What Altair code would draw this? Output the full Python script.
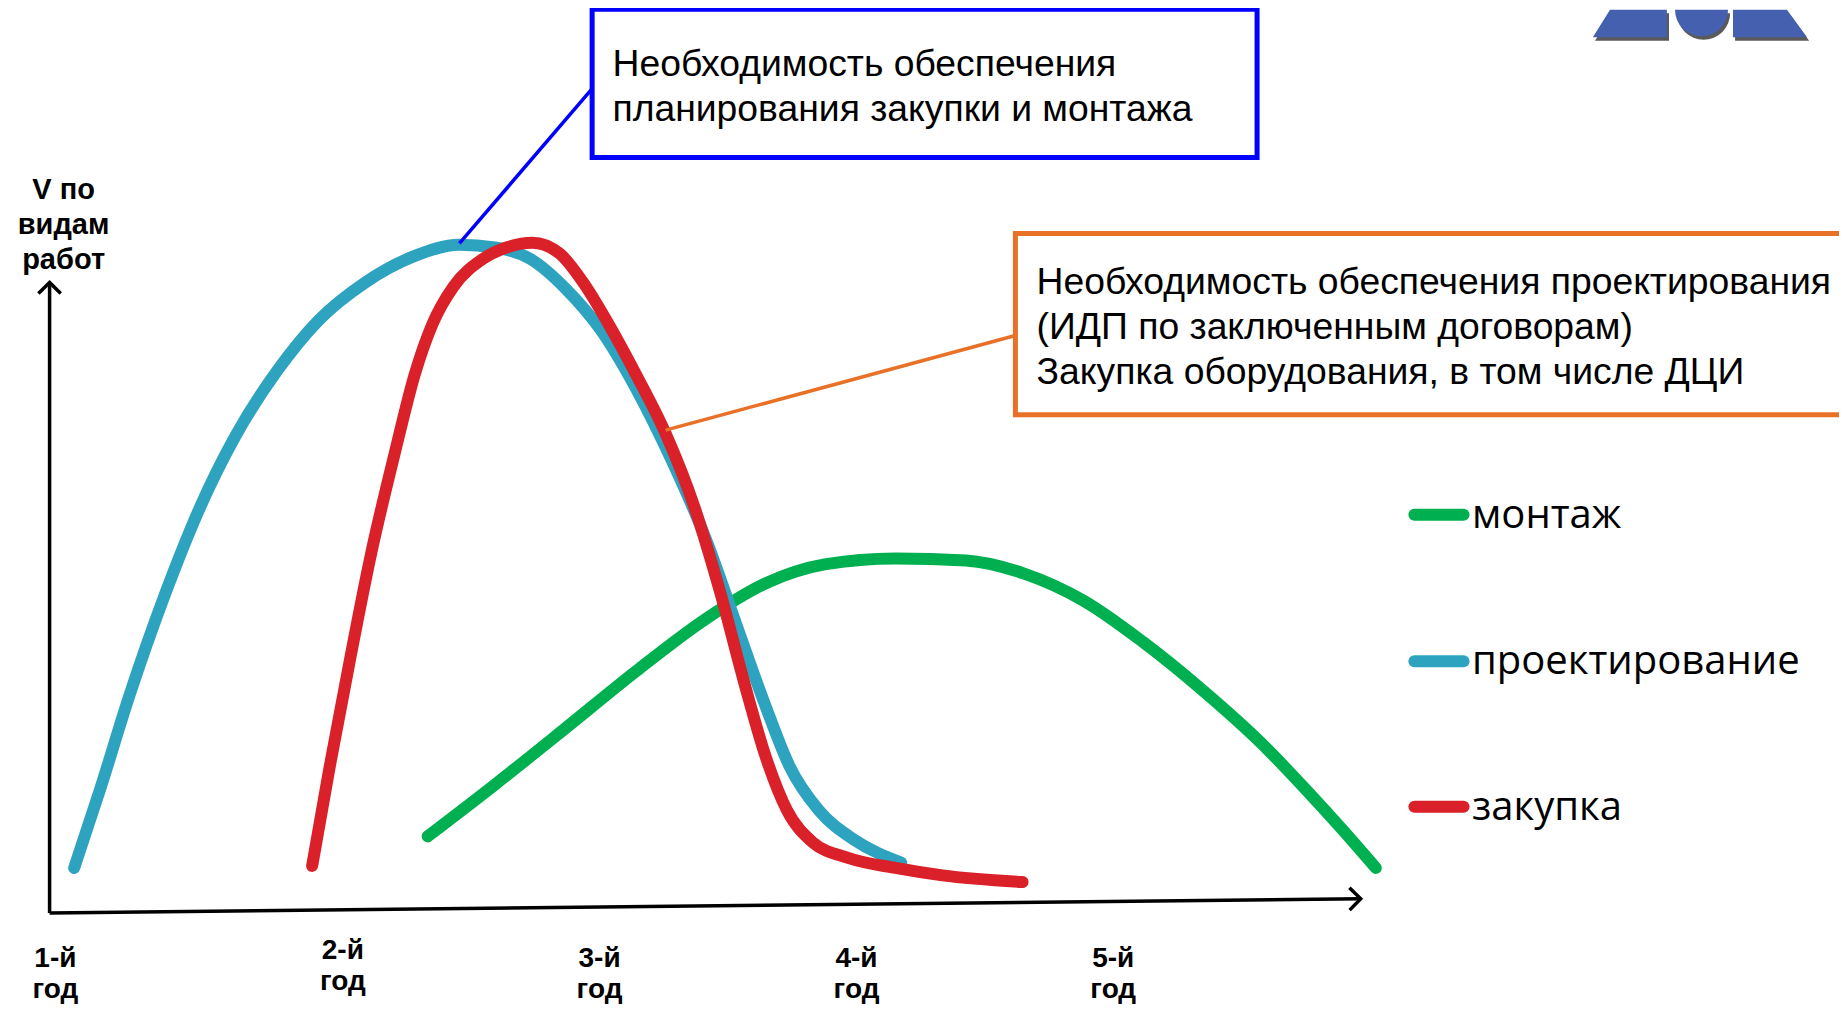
import math
import altair as alt
import pandas as pd

# ---------------- data (x = years, y = relative volume of work) ----------------
series_names = ["монтаж", "проектирование", "закупка"]
series_colors = ["#00B050", "#2EA3C0", "#DA2029"]

proj_x = [1.071, 1.169, 1.281, 1.414, 1.548, 1.682, 1.838, 1.994, 2.172, 2.350, 2.528, 2.662,
          2.796, 2.929, 3.063, 3.196, 3.330, 3.464, 3.575, 3.687, 3.776, 3.887, 4.021, 4.199]
proj_y = [6.7, 18.4, 32.5, 47.4, 60.5, 71.1, 80.7, 88.2, 93.9, 97.7, 99.5, 99.1,
          97.4, 93.0, 86.8, 78.1, 67.5, 55.3, 43.0, 30.7, 21.9, 15.3, 10.9, 7.5]

buy_x = [1.971, 2.038, 2.114, 2.194, 2.283, 2.359, 2.426, 2.506, 2.617, 2.706, 2.804, 2.907,
         2.996, 3.085, 3.196, 3.308, 3.419, 3.517, 3.606, 3.687, 3.767, 3.865, 3.998, 4.177,
         4.355, 4.658]
buy_y = [7.0, 21.9, 37.7, 53.5, 68.4, 80.2, 87.7, 93.3, 97.4, 99.1, 99.8, 98.2,
         93.9, 88.2, 80.2, 71.4, 60.2, 47.4, 34.2, 23.2, 15.3, 10.5, 8.2, 6.7,
         5.6, 4.6]

mont_x = [2.408, 2.662, 2.929, 3.196, 3.464, 3.687, 3.909, 4.177, 4.444, 4.667, 4.889,
          5.112, 5.335, 5.558, 5.736, 5.870, 5.994]
mont_y = [11.4, 19.1, 27.5, 36.0, 43.9, 49.1, 51.9, 52.8, 52.5, 50.5, 46.5,
          40.4, 33.3, 25.4, 18.1, 12.3, 6.7]

year_labels = ["1-й\nгод", "2-й\nгод", "3-й\nгод", "4-й\nгод", "5-й\nгод"]
year_label_x = [1.0, 2.087, 3.058, 4.030, 5.001]
year_label_y = [-6.8, -5.6, -6.8, -6.8, -6.8]

y_title = "V по\nвидам\nработ"
box1_text = "Необходимость обеспечения\nпланирования закупки  и монтажа"
box2_text = ("Необходимость обеспечения проектирования\n(ИДП по заключенным договорам)\n"
             "Закупка оборудования, в том числе ДЦИ")

# ---------------- scales ----------------
XD = [0.8207, 7.746]
YD = [-13.86, 134.77]


def X(field):
    return alt.X(field, type="quantitative", scale=alt.Scale(domain=XD, nice=False, zero=False), axis=None)


def Y(field):
    return alt.Y(field, type="quantitative", scale=alt.Scale(domain=YD, nice=False, zero=False), axis=None)


color_scale = alt.Scale(domain=series_names, range=series_colors)

curves = pd.concat([
    pd.DataFrame({"x": mont_x, "y": mont_y, "s": "монтаж"}),
    pd.DataFrame({"x": proj_x, "y": proj_y, "s": "проектирование"}),
    pd.DataFrame({"x": buy_x, "y": buy_y, "s": "закупка"}),
])

layers = []

# logo (partially visible at the top right), with shadow
logo_df = pd.DataFrame({
    "part": ["l", "l", "r", "r"],
    "y": [134.5, 130.4, 134.5, 130.4],
    "x": [6.880, 6.815, 7.345, 7.345],
    "x2": [7.095, 7.095, 7.549, 7.625],
})
shadow_df = logo_df.assign(x=logo_df.x + 0.008, x2=logo_df.x2 + 0.008, y=logo_df.y - 0.5)
layers.append(alt.Chart(shadow_df).mark_area(orient="horizontal", color="#5a5a5a").encode(
    y=Y("y"), x=X("x"), x2="x2", detail="part:N"))
layers.append(alt.Chart(pd.DataFrame({"x": [7.234], "y": [134.0]})).mark_arc(
    radius=26.5, theta=math.pi / 2, theta2=3 * math.pi / 2, color="#5a5a5a"
).encode(x=X("x"), y=Y("y")))
layers.append(alt.Chart(logo_df).mark_area(orient="horizontal", color="#4660B0").encode(
    y=Y("y"), x=X("x"), x2="x2", detail="part:N"))
layers.append(alt.Chart(pd.DataFrame({"x": [7.226], "y": [134.5]})).mark_arc(
    radius=26.5, theta=math.pi / 2, theta2=3 * math.pi / 2, color="#4660B0"
).encode(x=X("x"), y=Y("y")))

# axes
axes_df = pd.DataFrame({"x": [0.978, 0.978], "x2": [0.978, 5.937], "y": [0.0, 0.0], "y2": [93.9, 2.1]})
layers.append(alt.Chart(axes_df).mark_rule(color="black", strokeWidth=3.5).encode(
    x=X("x"), x2="x2", y=Y("y"), y2="y2"))
arrow_df = pd.DataFrame({"x": [0.978, 5.937], "y": [93.9, 2.1], "a": [0.0, 89.4]})
layers.append(alt.Chart(arrow_df).mark_point(
    shape="M-1,1L0,0L1,1", size=500, filled=False, color="black", strokeWidth=3.5, opacity=1
).encode(x=X("x"), y=Y("y"), angle=alt.Angle("a:Q", scale=None)))

# curves
for name in series_names:
    layers.append(alt.Chart(curves).transform_filter(alt.datum.s == name).mark_line(
        strokeWidth=12, strokeCap="round", strokeJoin="round", interpolate="monotone"
    ).encode(x=X("x"), y=Y("y"), color=alt.Color("s:N", scale=color_scale, legend=None)))

# legend (manual)
leg_df = pd.DataFrame({"s": series_names, "x": [6.140] * 3, "x2": [6.326] * 3,
                       "tx": [6.358] * 3, "y": [59.3, 37.5, 15.8]})
layers.append(alt.Chart(leg_df).mark_rule(strokeWidth=12, strokeCap="round").encode(
    x=X("x"), x2="x2", y=Y("y"), color=alt.Color("s:N", scale=color_scale, legend=None)))
layers.append(alt.Chart(leg_df).mark_text(
    align="left", baseline="middle", font="Open Sans", fontSize=40, color="black", dy=1
).encode(x=X("tx"), y=Y("y"), text="s:N"))

# y title
layers.append(alt.Chart(pd.DataFrame({"x": [1.031], "y": [107.7], "t": [y_title]})).mark_text(
    align="center", baseline="middle", font="Liberation Sans", fontWeight="bold",
    fontSize=29, lineHeight=35, lineBreak="\n", color="black"
).encode(x=X("x"), y=Y("y"), text="t:N"))

# year labels
layers.append(alt.Chart(pd.DataFrame({"x": year_label_x, "y": year_label_y, "t": year_labels})).mark_text(
    align="center", baseline="middle", font="Liberation Sans", fontWeight="bold",
    fontSize=28, lineHeight=31, lineBreak="\n", color="black"
).encode(x=X("x"), y=Y("y"), text="t:N"))

# annotation boxes
box_df = pd.DataFrame({"x": [3.030, 4.631], "x2": [5.545, 7.9], "y": [134.6, 101.2], "y2": [112.5, 74.2],
                       "c": ["#0000FF", "#E97127"]})
layers.append(alt.Chart(box_df).mark_rect(fill="white", fillOpacity=0, strokeWidth=5).encode(
    x=X("x"), x2="x2", y=Y("y"), y2="y2", stroke=alt.Stroke("c:N", scale=None)))
conn_df = pd.DataFrame({"x": [2.528, 3.308], "x2": [3.031, 4.631], "y": [99.7, 71.9], "y2": [122.8, 86.0],
                        "c": ["#0000FF", "#E97127"]})
layers.append(alt.Chart(conn_df).mark_rule(strokeWidth=3.5).encode(
    x=X("x"), x2="x2", y=Y("y"), y2="y2", color=alt.Color("c:N", scale=None)))
text_df = pd.DataFrame({"x": [3.107, 4.711], "y": [126.35, 93.85], "t": [box1_text, box2_text]})
layers.append(alt.Chart(text_df).mark_text(
    align="left", baseline="middle", font="Liberation Sans", fontSize=37.3, lineHeight=45,
    lineBreak="\n", color="black"
).encode(x=X("x"), y=Y("y"), text="t:N"))

chart = alt.layer(*layers).properties(
    width=1831, height=998, padding=0, autosize=alt.AutoSizeParams(type="none"), background="white"
).configure_view(stroke=None)

chart.save("out.html", embed_options={"renderer": "svg", "actions": False})
